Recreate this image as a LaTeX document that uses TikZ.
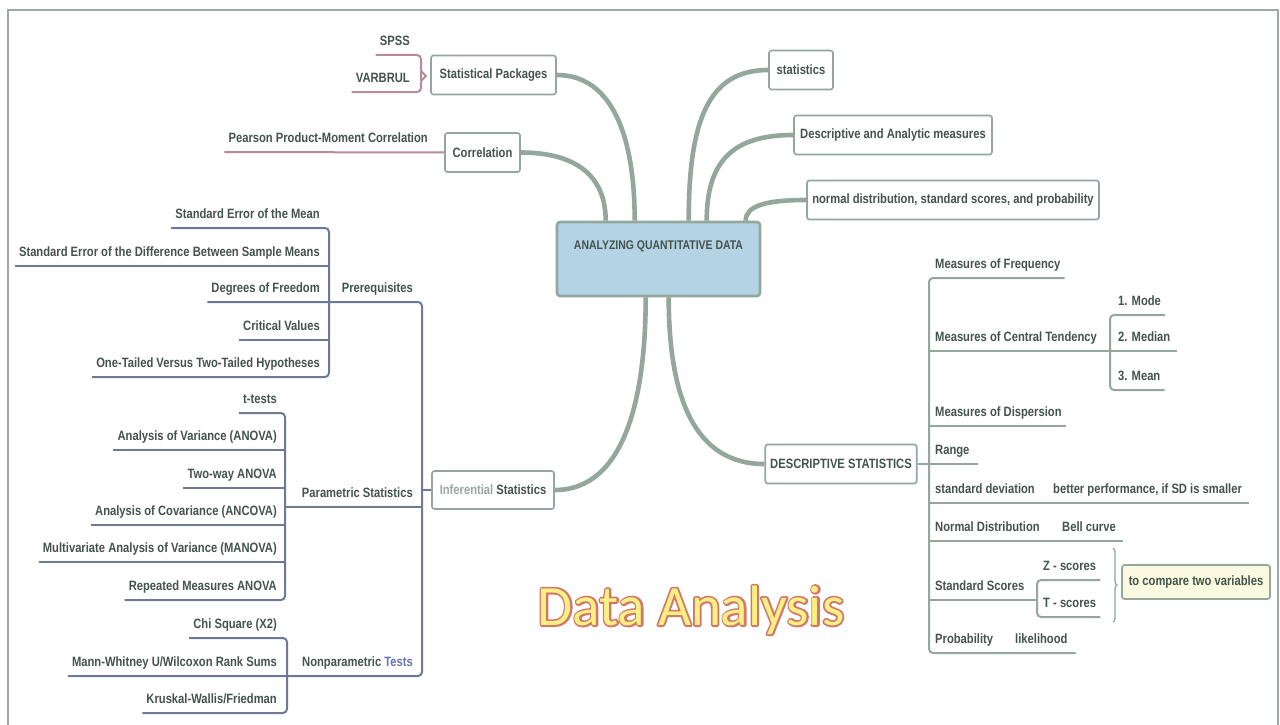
\documentclass[tikz,border=0pt]{standalone}
\usepackage{fontspec}
\setmainfont{Liberation Sans}
\newfontfamily\mapfont[FakeStretch=0.83]{Liberation Sans Bold}
\newfontfamily\titlefont{Carlito}
\usetikzlibrary{calc,decorations.pathreplacing}

\definecolor{txt}{HTML}{45534D}
\definecolor{branch}{HTML}{93A79D}
\definecolor{blueln}{HTML}{6E7995}
\definecolor{pinkln}{HTML}{B98A97}
\definecolor{rootfill}{HTML}{B4D4E6}
\definecolor{notefill}{HTML}{FAFAE0}
\definecolor{titlefill}{HTML}{F9F084}
\definecolor{testsblue}{HTML}{6474B4}
\definecolor{lighttxt}{HTML}{9BA8A2}
\definecolor{framec}{HTML}{9AABA3}

\newcommand{\mapfs}{\mapfont\fontsize{13.5}{15}\selectfont}

\tikzset{
  mapbox/.style={draw=branch, line width=1.6pt, rounded corners=2.5pt, fill=white,
    inner xsep=5pt, inner ysep=0pt, minimum height=39pt, font=\mapfs, text=txt},
  leafl/.style={anchor=south east, inner xsep=4pt, inner ysep=9pt,
    text height=10pt, text depth=0pt, font=\mapfs, text=txt},
  leafr/.style={anchor=south west, inner xsep=4pt, inner ysep=9pt,
    text height=10pt, text depth=0pt, font=\mapfs, text=txt},
  mainline/.style={draw=branch, line width=4.6pt},
  bline/.style={draw=blueln, line width=2pt, rounded corners=4pt},
  gline/.style={draw=branch, line width=2pt, rounded corners=4pt},
  pline/.style={draw=pinkln, line width=2pt, rounded corners=4pt},
  titletext/.style={font=\titlefont\fontsize{57}{60}\selectfont, inner sep=0pt},
}

\begin{document}
\begin{tikzpicture}[x=1pt,y=-1pt]
\useasboundingbox (0,0) rectangle (1280,725);
\fill[white] (0,0) rectangle (1280,725);

% page frame
\draw[framec, line width=1.5pt] (8,725) -- (8,10) -- (1278,10) -- (1278,725);

% ---------- central topic ----------
\node[draw=branch, line width=2.6pt, fill=rootfill, rounded corners=3pt,
      minimum width=203pt, minimum height=74pt] (root) at (658.5,259) {};
\node[font=\mapfont\fontsize{12.6}{14}\selectfont, text=txt] (roottext) at (658.5,246) {ANALYZING QUANTITATIVE DATA};

% ---------- main topics ----------
\node[mapbox, minimum width=125pt] (pkgs)  at (493.5,75)  {Statistical Packages};
\node[mapbox, minimum width=75pt]  (corr)  at (482.5,152.5) {Correlation};
\node[mapbox, minimum width=122pt, minimum height=38pt] (infer) at (493,490)
  {\textcolor{lighttxt}{Inferential} Statistics};
\node[mapbox, minimum width=64pt]  (stats) at (801,70)   {statistics};
\node[mapbox, minimum width=198pt] (descm) at (893,135)  {Descriptive and Analytic measures};
\node[mapbox, minimum width=292pt] (normd) at (953,200)  {normal distribution, standard scores, and probability};
\node[mapbox, minimum width=149pt] (dstat) at (841,464)  {DESCRIPTIVE STATISTICS};

% branches from the central topic
\draw[mainline] (pkgs.east)  .. controls +(55,0)  and +(0,-85) .. ($(root.north west)+(79,0)$);
\draw[mainline] (corr.east)  .. controls +(55,0)  and +(0,-45) .. ($(root.north west)+(50,0)$);
\draw[mainline] (stats.west) .. controls +(-60,0) and +(0,-100) .. ($(root.north west)+(133,0)$);
\draw[mainline] (descm.west) .. controls +(-60,0) and +(0,-60) .. ($(root.north west)+(151,0)$);
\draw[mainline] (normd.west) .. controls +(-40,0) and +(0,-15) .. ($(root.north west)+(190,0)$);
\draw[mainline] (infer.east) .. controls +(70,0)  and +(0,100) .. ($(root.south west)+(90,0)$);
\draw[mainline] (dstat.west) .. controls +(-70,0) and +(0,100) .. ($(root.south west)+(113,0)$);

% ---------- statistical packages ----------
\node[leafl] (spss) at (414,55) {SPSS};
\node[leafl] (varb) at (414,92) {VARBRUL};
\draw[pline] (spss.south west) -- (421,55) -- (421,92) -- (varb.south west);
\draw[pline, rounded corners=0pt] (421,71) -- (426,76) -- (421,81);

% ---------- correlation ----------
\node[leafl] (pear) at (432,152) {Pearson Product-Moment Correlation};
\draw[pline] (pear.south west) -- (corr.west);

% ---------- inferential statistics: prerequisites ----------
\node[leafl] (sem) at (324,228) {Standard Error of the Mean};
\node[leafl] (sed) at (324,266) {Standard Error of the Difference Between Sample Means};
\node[leafl] (dof) at (324,302) {Degrees of Freedom};
\node[leafl] (crv) at (324,340) {Critical Values};
\node[leafl] (oth) at (324,377) {One-Tailed Versus Two-Tailed Hypotheses};
\node[leafl] (prq) at (417,302) {Prerequisites};
\coordinate (prqb) at (329,0);
\draw[bline] (sem.south west) -- (sem.south west -| prqb) -- (oth.south west -| prqb) -- (oth.south west);
\draw[bline] (sed.south west) -- (sed.south west -| prqb);
\draw[bline] (crv.south west) -- (crv.south west -| prqb);

% ---------- parametric statistics ----------
\node[leafl] (tt)     at (281,413) {t-tests};
\node[leafl] (anova)  at (281,450) {Analysis of Variance (ANOVA)};
\node[leafl] (twa)    at (281,488) {Two-way ANOVA};
\node[leafl] (ancova) at (281,525) {Analysis of Covariance (ANCOVA)};
\node[leafl] (manova) at (281,562) {Multivariate Analysis of Variance (MANOVA)};
\node[leafl] (rma)    at (281,600) {Repeated Measures ANOVA};
\node[leafl] (par)    at (417,507) {Parametric Statistics};
\coordinate (parb) at (285,0);
\draw[bline] (tt.south west) -- (tt.south west -| parb) -- (rma.south west -| parb) -- (rma.south west);
\draw[bline] (anova.south west)  -- (anova.south west -| parb);
\draw[bline] (twa.south west)    -- (twa.south west -| parb);
\draw[bline] (ancova.south west) -- (ancova.south west -| parb);
\draw[bline] (manova.south west) -- (manova.south west -| parb);

% ---------- nonparametric tests ----------
\node[leafl] (chi) at (281,638) {Chi Square (X2)};
\node[leafl] (mwu) at (281,676) {Mann-Whitney U/Wilcoxon Rank Sums};
\node[leafl] (kwf) at (281,713) {Kruskal-Wallis/Friedman};
\node[leafl] (npt) at (417,676) {Nonparametric \textcolor{testsblue}{Tests}};
\coordinate (nptb) at (287,0);
\draw[bline] (chi.south west) -- (chi.south west -| nptb) -- (kwf.south west -| nptb) -- (kwf.south west);

% spine of the inferential subtree
\coordinate (spine) at (422,0);
\draw[bline] (dof.south west) -- (dof.south west -| spine) -- (mwu.south west -| spine) -- (mwu.south west);
\draw[bline] (par.south west -| parb) -- (par.south west -| spine);
\draw[bline] (infer.west -| spine) -- (infer.west);

% ---------- descriptive statistics ----------
\coordinate (dsb) at (929,0);
\node[leafr] (mof)  at (931,278) {Measures of Frequency};
\node[leafr] (mct)  at (931,351) {Measures of Central Tendency};
\node[leafr] (mode) at (1114,315) {1. Mode};
\node[leafr] (med)  at (1114,351) {2. Median};
\node[leafr] (mean) at (1114,390) {3. Mean};
\node[leafr] (mod)  at (931,426) {Measures of Dispersion};
\node[leafr] (rng)  at (931,464) {Range};
\node[leafr] (sd)   at (931,503) {standard deviation};
\node[leafr] (sdn)  at (1049,503) {better performance, if SD is smaller};
\node[leafr] (nd)   at (931,541) {Normal Distribution};
\node[leafr] (bell) at (1058,541) {Bell curve};
\node[leafr] (ss)   at (931,600) {Standard Scores};
\node[leafr] (zs)   at (1039,580) {Z - scores};
\node[leafr] (ts)   at (1039,617) {T - scores};
\node[leafr] (prob) at (931,653) {Probability};
\node[leafr] (lik)  at (1011,653) {likelihood};

\draw[gline] (mof.south east) -- (mof.south east -| dsb) -- (lik.south east -| dsb) -- ([xshift=4pt]lik.south east);
\draw[gline] (mct.south west -| dsb) -- ([xshift=2pt]med.south east);
\coordinate (mctb) at (1110,0);
\draw[gline] (mode.south east) -- (mode.south east -| mctb) -- (mean.south east -| mctb) -- (mean.south east);
\draw[gline] (mod.south west -| dsb) -- (mod.south east);
\draw[gline] (rng.south west -| dsb) -- ([xshift=4pt]rng.south east);
\draw[gline] (sd.south west -| dsb) -- ([xshift=3pt]sdn.south east);
\draw[gline] (nd.south west -| dsb) -- ([xshift=3pt]bell.south east);
\coordinate (ssb) at (1037,0);
\draw[gline] (zs.south east) -- (zs.south east -| ssb) -- (ts.south east -| ssb) -- (ts.south east);
\draw[gline] (ss.south west -| dsb) -- (ss.south west -| ssb);
\draw[gline] (dstat.east) -- (dstat.east -| dsb);

% standard scores summary
\coordinate (brtop) at (1113,548);
\coordinate (brbot) at (1113,622);
\draw[branch, line width=1.3pt, decorate, decoration={brace, amplitude=4pt}] (brtop) -- (brbot);
\node[mapbox, fill=notefill, minimum width=148pt, minimum height=34pt] (note) at (1196,582) {to compare two variables};

% ---------- title: a red stroked copy under yellow letters ----------
\node[titletext, text=titlefill] (title) at (691,610)
  {\special{pdf:code 1 Tr 3.6 w 1 J 1 j 0.82 0.47 0.42 RG}Data Analysis\special{pdf:code 0 Tr}\llap{Data Analysis}};
\end{tikzpicture}
\end{document}
